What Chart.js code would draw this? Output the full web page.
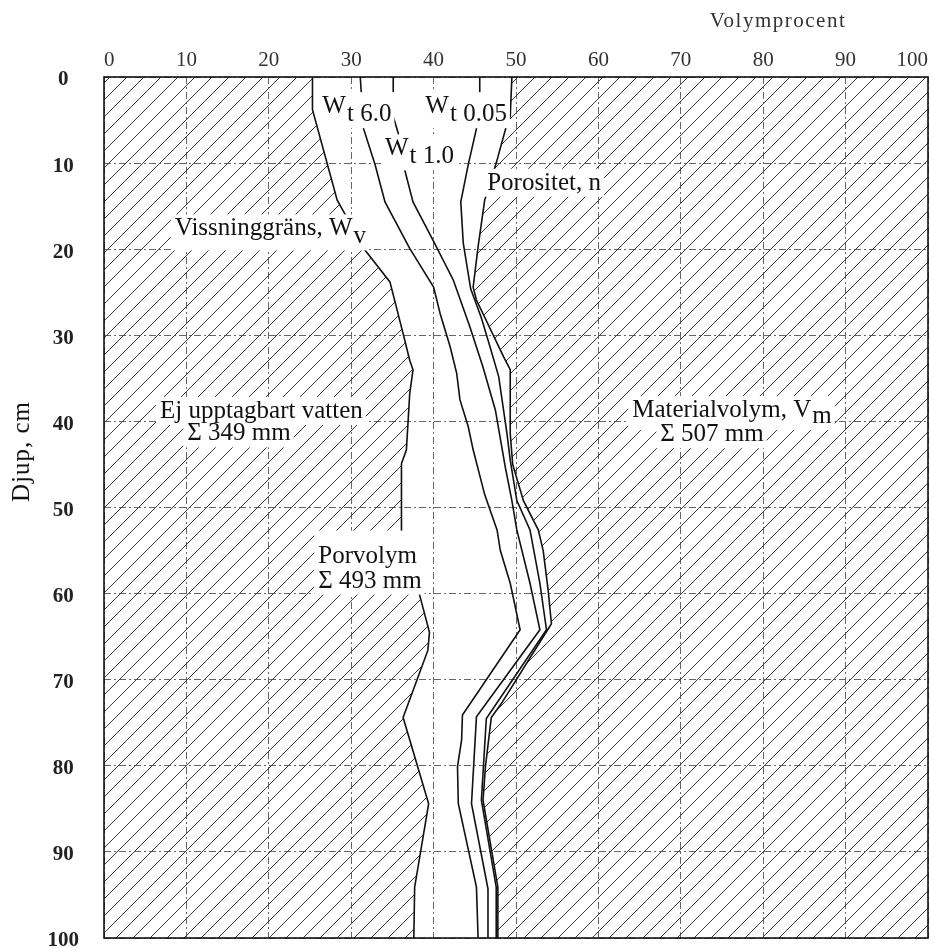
<!DOCTYPE html>
<html><head><meta charset="utf-8">
<script src="https://cdn.jsdelivr.net/npm/chart.js@4/dist/chart.umd.min.js"></script>
<style>html,body{margin:0;padding:0;background:#fff}#wrap{width:934px;height:948px}</style>
</head><body><div id="wrap"><canvas id="c" width="934" height="948"></canvas></div>
<script>
// ---- data (volume %, depth cm) ----
const volTicks = [0,10,20,30,40,50,60,70,80,90,100];
const depthTicks = [0,10,20,30,40,50,60,70,80,90,100];

const wvDepth = [0, 3.8, 14.3, 16.2, 19.9, 23.8, 29.8, 32.9, 34.0, 36.8, 43.3, 44.9, 52.6, 59.8, 64.5, 66.6, 74.4, 84.4, 94.1, 100];
const wvVol   = [25.3, 25.3, 28.3, 29.4, 31.5, 34.7, 36.3, 37.1, 37.5, 37.1, 36.7, 36.1, 36.1, 38.2, 39.5, 39.3, 36.3, 39.4, 37.7, 37.6];

const wt60Depth = [0, 6, 10.2, 14.5, 19.9, 24.4, 27.5, 31.3, 34.4, 37.5, 40.6, 43.3, 48.5, 52.6, 55, 58.8, 64.2, 74.1, 77, 80.1, 84.4, 94.1, 100];
const wt60Vol   = [31.1, 31.5, 32.9, 34.1, 37.1, 40.0, 40.8, 42.0, 42.8, 43.2, 44.2, 44.8, 46.2, 47.7, 48.1, 49.3, 50.5, 43.5, 43.4, 42.9, 43.0, 45.2, 45.4];

const wt10Depth = [0, 4.6, 6.5, 10.8, 14.5, 19.1, 23.6, 29, 33.7, 38.7, 45.3, 49.2, 52.6, 58.8, 64.2, 74.3, 84.4, 94.3, 100];
const wt10Vol   = [35.1, 35.1, 35.7, 36.5, 37.5, 40.0, 42.4, 44.4, 46.0, 47.5, 48.7, 49.5, 50.1, 51.7, 52.9, 45.2, 44.6, 46.6, 46.6];

const wt005Depth = [0, 2, 6, 10.2, 14.5, 19.3, 24.6, 28, 31.5, 34.8, 41.4, 44.5, 49.2, 52.6, 58.8, 64.2, 74.5, 84, 94.1, 100];
const wt005Vol   = [45.6, 45.6, 45.2, 44.2, 43.3, 43.6, 44.5, 45.8, 46.9, 47.9, 48.9, 49.3, 50.1, 51.7, 52.9, 53.7, 46.4, 45.8, 47.6, 47.6];

const porDepth = [0, 4.6, 5.8, 10, 14.3, 19.7, 24.4, 25.9, 32.5, 34, 41.4, 45, 49.2, 52.6, 55, 59.6, 63.5, 72.8, 74.4, 80, 84, 94.1, 100];
const porVol   = [49.5, 49.3, 48.8, 47.6, 46.2, 45.4, 44.8, 45.2, 48.5, 49.3, 49.3, 49.6, 50.9, 52.7, 53.3, 53.9, 54.3, 48.2, 47.0, 46.3, 46.0, 47.8, 47.8];

// annotation texts anchored in data coordinates (vol %, depth cm)
const annotations = [
  {text:'W', sub:'t 6.0', vol:26.5, depth:4.2},
  {text:'W', sub:'t 1.0', vol:34.1, depth:9.1},
  {text:'W', sub:'t 0.05', vol:39.0, depth:4.2},
  {text:'Porositet, n', vol:46.5, depth:13.1},
  {text:'Vissninggräns, W', sub:'v', vol:8.6, depth:18.4},
  {text:'Ej upptagbart vatten', vol:6.8, depth:39.6},
  {text:'\u03A3 349 mm', vol:10.1, depth:42.2},
  {text:'Materialvolym, V', sub:'m', subDrop:6, vol:64.1, depth:39.5},
  {text:'\u03A3 507 mm', vol:67.5, depth:42.3},
  {text:'Porvolym', vol:26.0, depth:56.4, padTop:32},
  {text:'\u03A3 493 mm', vol:26.0, depth:59.3}
];

const pts = (d, v) => d.map((dd, i) => ({x: v[i], y: dd}));
const SERIF = '"Liberation Serif", "DejaVu Serif", serif';

function makeHatch() {
  const s = 17;
  const c = document.createElement('canvas');
  c.width = s; c.height = s;
  const g = c.getContext('2d');
  g.strokeStyle = '#3a3a3a';
  g.lineWidth = 1;
  g.beginPath();
  g.moveTo(0, s); g.lineTo(s, 0);
  g.moveTo(-2, 2); g.lineTo(2, -2);
  g.moveTo(s - 2, s + 2); g.lineTo(s + 2, s - 2);
  g.stroke();
  return g.createPattern(c, 'repeat');
}
const hatch = makeHatch();

const lineStyle = {borderColor:'#111', borderWidth:1.6, pointRadius:0, tension:0};

const overlay = {
  id: 'overlay',
  afterDatasetsDraw(chart) {
    const {ctx, chartArea: a, scales: {x, y}} = chart;
    ctx.save();
    ctx.setLineDash([]);
    ctx.strokeStyle = '#111';
    ctx.lineWidth = 1.6;
    ctx.strokeRect(a.left, a.top, a.right - a.left, a.bottom - a.top);

    ctx.font = '25px ' + SERIF;
    ctx.textBaseline = 'alphabetic';
    ctx.textAlign = 'left';
    const items = annotations.map(an => {
      const px = x.getPixelForValue(an.vol);
      const py = y.getPixelForValue(an.depth);
      const w1 = ctx.measureText(an.text).width;
      const w2 = an.sub ? ctx.measureText(an.sub).width + 1 : 0;
      const drop = an.sub ? (an.subDrop || 8) : 0;
      return {an, px, py, w1, w2, drop};
    });
    ctx.fillStyle = '#fff';
    items.forEach(it => {
      const top = it.py - (it.an.padTop || 21);
      const bottom = it.py + it.drop + 7;
      ctx.fillRect(it.px - 4, top, it.w1 + it.w2 + 7, bottom - top);
    });
    ctx.fillStyle = '#111';
    items.forEach(it => {
      ctx.fillText(it.an.text, it.px, it.py);
      if (it.an.sub) ctx.fillText(it.an.sub, it.px + it.w1 + 1, it.py + it.drop);
    });

    // axis titles
    ctx.fillStyle = '#333';
    ctx.font = '21px ' + SERIF;
    if ('letterSpacing' in ctx) ctx.letterSpacing = '1.5px';
    ctx.fillText('Volymprocent', x.getPixelForValue(73.5), a.top - 50);
    if ('letterSpacing' in ctx) ctx.letterSpacing = '1px';
    ctx.font = '25px ' + SERIF;
    ctx.fillStyle = '#111';
    ctx.translate(22, y.getPixelForValue(43.5));
    ctx.rotate(-Math.PI / 2);
    ctx.textAlign = 'center';
    ctx.textBaseline = 'middle';
    ctx.fillText('Djup, cm', 0, 0);
    ctx.restore();
  }
};

new Chart(document.getElementById('c'), {
  type: 'line',
  data: {
    datasets: [
      {label:'Vissninggräns', data: pts(wvDepth, wvVol), ...lineStyle, fill:{value:0}, backgroundColor: hatch},
      {label:'Wt 6.0', data: pts(wt60Depth, wt60Vol), ...lineStyle, fill:false},
      {label:'Wt 1.0', data: pts(wt10Depth, wt10Vol), ...lineStyle, fill:false},
      {label:'Wt 0.05', data: pts(wt005Depth, wt005Vol), ...lineStyle, fill:false},
      {label:'Porositet', data: pts(porDepth, porVol), ...lineStyle, fill:{value:100}, backgroundColor: hatch}
    ]
  },
  options: {
    indexAxis: 'y',
    responsive: false,
    animation: false,
    devicePixelRatio: 1,
    layout: {padding: {left: 0, right: 6, top: 0, bottom: 10}},
    plugins: {legend: {display: false}, tooltip: {enabled: false}},
    scales: {
      x: {
        type: 'linear', position: 'top', min: 0, max: 100,
        afterBuildTicks: s => { s.ticks = volTicks.map(v => ({value: v})); },
        ticks: {align: 'inner', padding: 4, color: '#333', font: {family: SERIF, size: 21}},
        grid: {color: '#666', lineWidth: 1, drawTicks: false},
        border: {display: false, dash: [7, 3, 2, 3]},
        afterFit: s => { s.height = 77; s.paddingLeft = 0; s.paddingRight = 0; }
      },
      y: {
        type: 'linear', reverse: true, min: 0, max: 100,
        afterBuildTicks: s => { s.ticks = depthTicks.map(v => ({value: v})); },
        ticks: {padding: 25, crossAlign: 'center', labelOffset: 3, color: '#222', font: {family: SERIF, size: 21, weight: 'bold'}},
        grid: {color: '#666', lineWidth: 1, drawTicks: false},
        border: {display: false, dash: [7, 3, 2, 3]},
        afterFit: s => { s.width = 104; s.paddingTop = 0; s.paddingBottom = 0; }
      }
    }
  },
  plugins: [overlay]
});
</script>
</body></html>
